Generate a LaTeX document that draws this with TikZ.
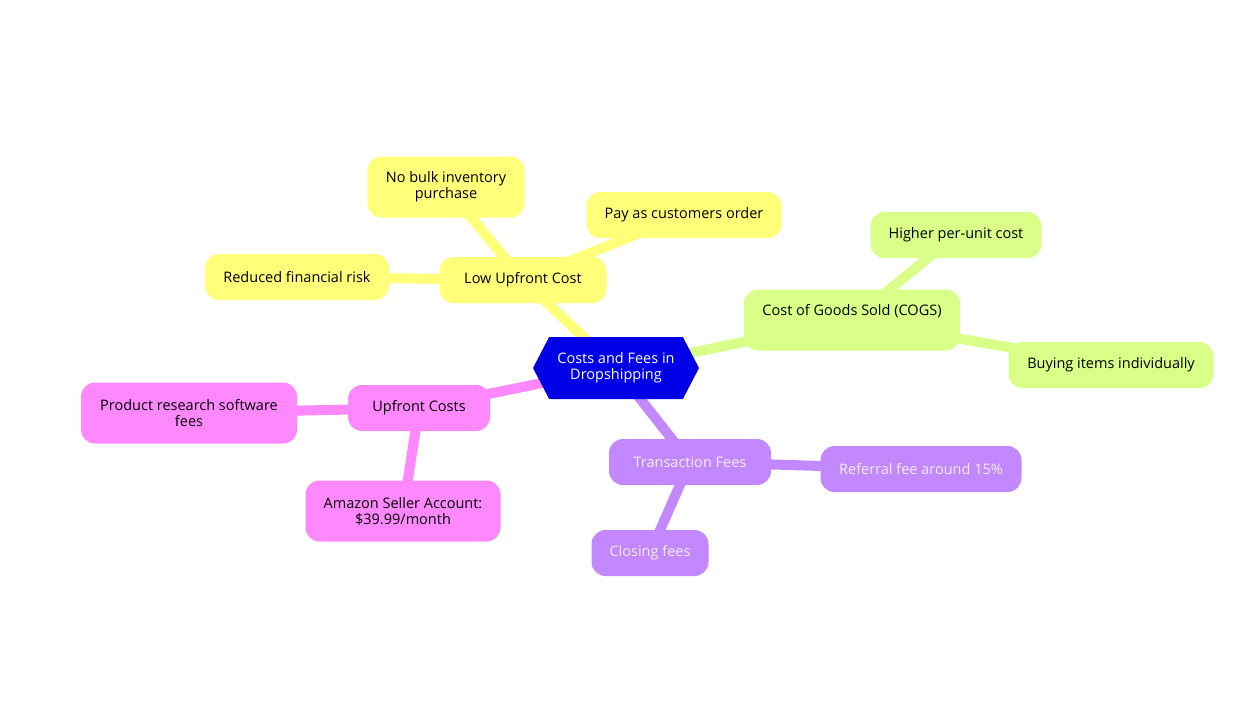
\documentclass[tikz,border=0pt]{standalone}
\usepackage{fontspec}
\setmainfont{Open Sans}
\usetikzlibrary{shapes.symbols,backgrounds}
\definecolor{hubblue}{HTML}{0000E6}
\definecolor{lowyellow}{HTML}{FFFF7A}
\definecolor{cogsgreen}{HTML}{D9FF88}
\definecolor{feepurple}{HTML}{C388FF}
\definecolor{upfrontpink}{HTML}{FF88FF}
\definecolor{feetext}{HTML}{F4ECFF}

\begin{document}
\begin{tikzpicture}[x=1pt, y=-1pt,
    topic/.style={rounded corners=14pt, minimum height=46pt, inner sep=0pt,
      align=center, font=\fontsize{14.5}{16}\selectfont, text=black},
    hub/.style={shape=signal, signal to=west and east, signal pointer angle=125,
      fill=hubblue, text=white, minimum width=166pt, minimum height=62pt,
      inner sep=0pt, align=center, font=\fontsize{14.5}{16}\selectfont},
    link/.style={line width=10pt}]

  \useasboundingbox (0,0) rectangle (1254,716);

  %%%%% centre %%%%%
  \node[hub] (dropship) at (616, 368) {Costs and Fees in\\Dropshipping};

  %%%%% yellow branch %%%%%
  \node[topic, fill=lowyellow, minimum width=167pt] (lowcost) at (523, 280) {Low Upfront Cost};
  \node[topic, fill=lowyellow, minimum width=157pt, minimum height=61pt] (nobulk) at (446, 187) {No bulk inventory\\purchase};
  \node[topic, fill=lowyellow, minimum width=195pt] (payorder) at (684, 215) {Pay as customers order};
  \node[topic, fill=lowyellow, minimum width=184pt] (lessrisk) at (297, 277) {Reduced financial risk};

  %%%%% green branch %%%%%
  \node[topic, fill=cogsgreen, minimum width=216pt, minimum height=61pt, text depth=20pt] (cogs) at (852, 320) {Cost of Goods Sold (COGS)};
  \node[topic, fill=cogsgreen, minimum width=171pt] (perunit) at (956, 235) {Higher per-unit cost};
  \node[topic, fill=cogsgreen, minimum width=205pt] (single) at (1111, 365) {Buying items individually};

  %%%%% purple branch %%%%%
  \node[topic, fill=feepurple, text=feetext, minimum width=162pt] (transfees) at (690, 462) {Transaction Fees};
  \node[topic, fill=feepurple, text=feetext, minimum width=201pt] (referral) at (921, 469) {Referral fee around 15\%};
  \node[topic, fill=feepurple, text=feetext, minimum width=117pt] (closing) at (650, 553) {Closing fees};

  %%%%% pink branch %%%%%
  \node[topic, fill=upfrontpink, minimum width=142pt] (upfront) at (419, 408) {Upfront Costs};
  \node[topic, fill=upfrontpink, minimum width=216pt, minimum height=61pt] (research) at (189, 413) {Product research software\\fees};
  \node[topic, fill=upfrontpink, minimum width=195pt, minimum height=61pt] (sellerfee) at (403, 511) {Amazon Seller Account:\\\$39.99/month};

  %%%%% links %%%%%
  \begin{scope}[on background layer]
    \draw[link, lowyellow] (dropship.center) -- (lowcost.center);
    \draw[link, lowyellow] (lowcost.center) -- (nobulk.center);
    \draw[link, lowyellow] (lowcost.center) -- (payorder.center);
    \draw[link, lowyellow] (lowcost.center) -- (lessrisk.center);

    \draw[link, cogsgreen] (dropship.center) -- (cogs.center);
    \draw[link, cogsgreen] (cogs.center) -- (perunit.center);
    \draw[link, cogsgreen] (cogs.center) -- (single.center);

    \draw[link, feepurple] (dropship.center) -- (transfees.center);
    \draw[link, feepurple] (transfees.center) -- (referral.center);
    \draw[link, feepurple] (transfees.center) -- (closing.center);

    \draw[link, upfrontpink] (dropship.center) -- (upfront.center);
    \draw[link, upfrontpink] (upfront.center) -- (research.center);
    \draw[link, upfrontpink] (upfront.center) -- (sellerfee.center);
  \end{scope}

\end{tikzpicture}
\end{document}
